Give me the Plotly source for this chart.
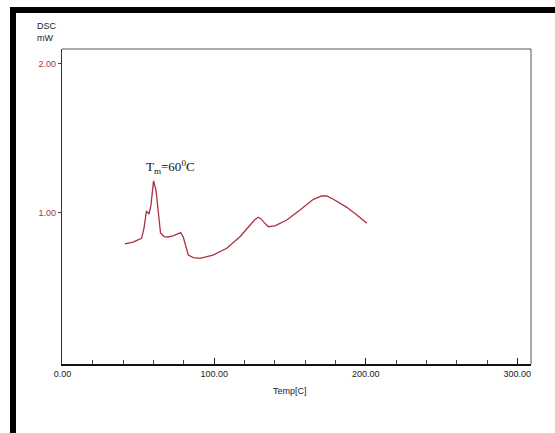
import plotly.graph_objects as go

# DSC heating trace: temperature (C) and heat flow (mW)
temp_c = [41.1, 46.4, 52.1, 53.7, 55.3, 57.0, 58.3, 59.0, 60.0, 61.6, 62.8, 64.6, 66.9,
          69.5, 72.8, 75.4, 77.9, 79.6, 81.4, 82.9, 86.2, 90.6, 99.2, 108.3, 117.0,
          123.6, 126.9, 129.1, 130.9, 132.4, 135.7, 140.1, 147.9, 156.6, 165.4, 171.0,
          174.3, 178.6, 187.5, 194.1, 200.7]
dsc_mw = [0.792, 0.805, 0.830, 0.899, 1.013, 0.993, 1.054, 1.141, 1.215, 1.154, 1.040,
          0.866, 0.842, 0.839, 0.846, 0.856, 0.868, 0.839, 0.765, 0.718, 0.701, 0.696,
          0.718, 0.763, 0.841, 0.919, 0.956, 0.971, 0.960, 0.942, 0.908, 0.913, 0.953,
          1.020, 1.092, 1.114, 1.114, 1.092, 1.038, 0.987, 0.931]

x_ticks = [0, 100, 200, 300]
x_tick_labels = ["0.00", "100.00", "200.00", "300.00"]
y_ticks = [1, 2]
y_tick_labels = ["1.00", "2.00"]

narrow = "Liberation Sans Narrow, Liberation Sans, Arial, sans-serif"
curve_red = "#a8323e"

fig = go.Figure()
fig.add_trace(go.Scatter(
    x=temp_c, y=dsc_mw, mode="lines",
    line=dict(color=curve_red, width=1.3),
    showlegend=False, hoverinfo="skip",
))

fig.update_layout(
    width=555, height=433,
    margin=dict(l=62, r=24, t=49, b=69),
    paper_bgcolor="white", plot_bgcolor="white",
    xaxis=dict(
        range=[-0.4, 309], tickmode="array", tickvals=x_ticks, ticktext=x_tick_labels,
        ticks="inside", ticklen=6, tickcolor="#222", tickwidth=1,
        minor=dict(dtick=20, tick0=0, ticks="inside", ticklen=4, tickcolor="#444"),
        showline=True, linecolor="#111", linewidth=2,
        showgrid=False, zeroline=False,
        tickfont=dict(family=narrow, size=9, color="#222"),
    ),
    yaxis=dict(
        range=[-0.013, 2.1], tickmode="array", tickvals=y_ticks, ticktext=y_tick_labels,
        ticks="outside", ticklen=3, tickcolor="#444", tickwidth=1,
        showline=True, linecolor="#333", linewidth=1.2,
        showgrid=False, zeroline=False,
        tickfont=dict(family=narrow, size=9, color=curve_red),
    ),
)

# gray frame along the top and right of the plotting area
fig.add_shape(type="line", xref="paper", yref="paper", x0=0, x1=1, y0=1, y1=1,
              line=dict(color="#555", width=1))
fig.add_shape(type="line", xref="paper", yref="paper", x0=1, x1=1, y0=0, y1=1,
              line=dict(color="#555", width=1))

# heavy black border along the top and left of the page
fig.add_shape(type="rect", xref="paper", yref="paper",
              x0=-0.1109, x1=1.06, y0=1.1143, y1=1.1333,
              fillcolor="black", line=dict(width=0))
fig.add_shape(type="rect", xref="paper", yref="paper",
              x0=-0.1109, x1=-0.0981, y0=-0.23, y1=1.1333,
              fillcolor="black", line=dict(width=0))

# axis captions
fig.add_annotation(text="DSC<br>mW", xref="paper", yref="paper",
                   x=(35 - 62) / 469, y=(364 - 19) / 315, xanchor="left", yanchor="top",
                   showarrow=False, align="left",
                   font=dict(family=narrow, size=9, color="#222"))
fig.add_annotation(text="Temp[C]", xref="paper", yref="paper",
                   x=(290 - 62) / 469, y=(364 - 391) / 315, xanchor="center", yanchor="middle",
                   showarrow=False, font=dict(family=narrow, size=9, color="#222"))

# melting peak label
fig.add_annotation(text="T<sub>m</sub>=60<sup>0</sup>C", x=53.7, y=1.31,
                   xanchor="left", yanchor="middle", showarrow=False,
                   font=dict(family="Liberation Serif, Times New Roman, serif", size=13, color="#111"))

fig.write_html("out.html")
